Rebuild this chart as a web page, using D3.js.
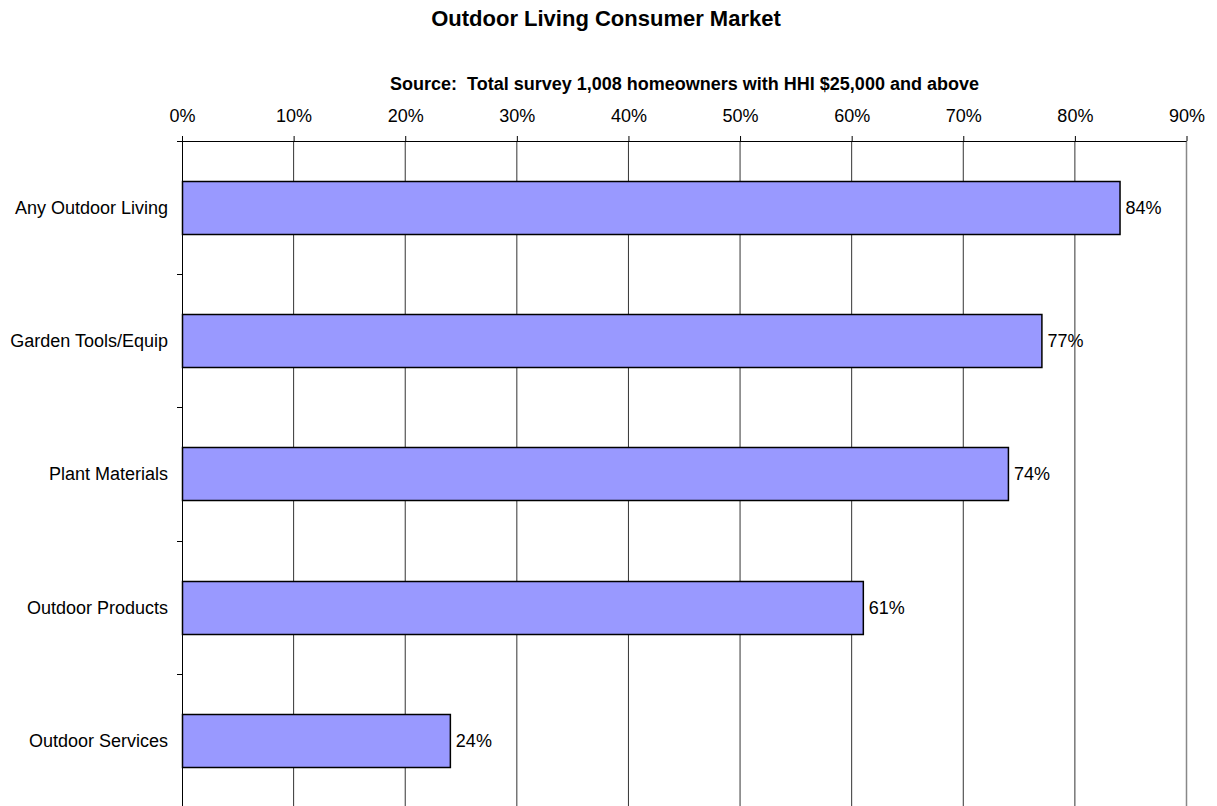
<!DOCTYPE html>
<html>
<head>
<meta charset="utf-8">
<script src="https://cdn.jsdelivr.net/npm/d3@7"></script>
<style>
  body { margin: 0; background: #fff; }
  svg text { font-family: "Liberation Sans", Arial, sans-serif; fill: #000; }
</style>
</head>
<body>
<svg id="chart" width="1217" height="806"></svg>
<script>
var categories = ["Any Outdoor Living", "Garden Tools/Equip", "Plant Materials", "Outdoor Products", "Outdoor Services"];
var values = [84, 77, 74, 61, 24];
var tickValues = [0, 10, 20, 30, 40, 50, 60, 70, 80, 90];

var svg = d3.select("#chart"),
    margin = {top: 141, right: 30, bottom: -1, left: 182},
    width = +svg.attr("width") - margin.left - margin.right,
    height = +svg.attr("height") - margin.top - margin.bottom;

var data = categories.map(function(c, i) { return {name: c, value: values[i]}; });

var x = d3.scaleLinear().domain([0, 90]).range([0, 1004.5]);
var y = d3.scaleBand().domain(categories).range([0, height]).paddingInner(0.6).paddingOuter(0.3);
var yTicks = d3.scaleBand().domain(categories).range([0, height]);

svg.append("text")
    .attr("x", 606).attr("y", 26)
    .attr("text-anchor", "middle")
    .style("font-size", "22px").style("font-weight", "bold")
    .text("Outdoor Living Consumer Market");

svg.append("text")
    .attr("x", 684.5).attr("y", 90)
    .attr("text-anchor", "middle")
    .attr("xml:space", "preserve")
    .style("white-space", "pre")
    .style("font-size", "18px").style("font-weight", "bold")
    .text("Source:  Total survey 1,008 homeowners with HHI $25,000 and above");

var g = svg.append("g")
    .attr("transform", "translate(" + margin.left + "," + margin.top + ")");

// gridlines
g.selectAll(".grid")
    .data(tickValues.slice(1))
    .enter().append("line")
    .attr("class", "grid")
    .attr("x1", function(d) { return x(d); })
    .attr("x2", function(d) { return x(d); })
    .attr("y1", 0).attr("y2", height)
    .attr("stroke", function(d) { return d === 90 ? "#888" : "#333"; })
    .attr("stroke-width", function(d) { return d === 90 ? 1.5 : 1; });

// top axis
var xAxis = d3.axisTop(x)
    .tickValues(tickValues)
    .tickSize(5)
    .tickPadding(14)
    .tickFormat(function(d) { return d + "%"; });

var gx = g.append("g").call(xAxis);
gx.select(".domain").attr("stroke", "#000").attr("d", "M-5,0.5H" + x(90));
gx.selectAll("text").style("font-size", "18px").style("font-family", "Liberation Sans, Arial, sans-serif");

// left axis
var gy = g.append("g");
gy.append("line")
    .attr("x1", 0.5).attr("x2", 0.5).attr("y1", 0).attr("y2", height)
    .attr("stroke", "#000");
gy.selectAll(".ytick")
    .data(categories.slice(1))
    .enter().append("line")
    .attr("x1", -5).attr("x2", 0)
    .attr("y1", function(d) { return Math.round(yTicks(d)) + 0.5; })
    .attr("y2", function(d) { return Math.round(yTicks(d)) + 0.5; })
    .attr("stroke", "#000");
gy.selectAll(".ylabel")
    .data(categories)
    .enter().append("text")
    .attr("x", -14)
    .attr("y", function(d) { return yTicks(d) + yTicks.bandwidth() / 2; })
    .attr("dy", "0.35em")
    .attr("text-anchor", "end")
    .style("font-size", "18px")
    .text(function(d) { return d; });

// bars
g.selectAll(".bar")
    .data(data)
    .enter().append("rect")
    .attr("class", "bar")
    .attr("x", 0.5)
    .attr("y", function(d) { return Math.round(y(d.name)) + 0.5; })
    .attr("width", function(d) { return x(d.value); })
    .attr("height", Math.round(y.bandwidth()))
    .attr("fill", "#9999FF")
    .attr("stroke", "#000")
    .attr("stroke-width", 1.5);

g.selectAll(".val")
    .data(data)
    .enter().append("text")
    .attr("class", "val")
    .attr("x", function(d) { return x(d.value) + 6; })
    .attr("y", function(d) { return y(d.name) + y.bandwidth() / 2; })
    .attr("dy", "0.35em")
    .style("font-size", "18px")
    .text(function(d) { return d.value + "%"; });
</script>
</body>
</html>
